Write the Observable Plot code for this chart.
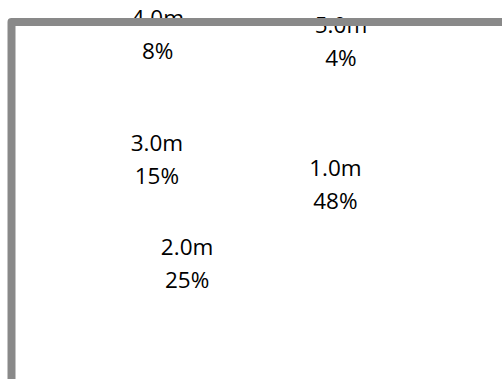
<!DOCTYPE html>
<html>
<head>
<meta charset="utf-8">
<script src="https://cdn.jsdelivr.net/npm/d3@7"></script>
<script src="https://cdn.jsdelivr.net/npm/@observablehq/plot@0.6"></script>
<style>
  html, body { margin: 0; padding: 0; background: #fff; width: 502px; height: 379px; overflow: hidden; }
  #chart { width: 502px; height: 379px; overflow: hidden; }
  #chart svg { display: block; max-width: none !important; width: 620px !important; height: 480px !important; }
</style>
</head>
<body>
<div id="chart"></div>
<script>
// ---- data ----
const categories = ["1.0m", "2.0m", "3.0m", "4.0m", "5.0m"];
const shares = [48, 25, 15, 8, 4];
const percentLabels = ["48%", "25%", "15%", "8%", "4%"];

// ---- pie layout (slices start at 12 o'clock, clockwise) ----
const arcs = d3.pie().sort(null).value(d => d)(shares);
const insideRadius = 0.667;   // labels of big slices, in pie radii
const outsideRadius = 1.29;   // labels of small slices pushed out ("best fit")
const smallShare = 10;
const minOutsideGap = 62 * Math.PI / 180; // spread outside labels apart

let lastOutside = null;
const labels = arcs.map((a, i) => {
  let angle = (a.startAngle + a.endAngle) / 2;
  const outside = shares[i] < smallShare;
  if (outside) {
    if (lastOutside !== null && angle - lastOutside < minOutsideGap) angle = lastOutside + minOutsideGap;
    lastOutside = angle;
  }
  const r = outside ? outsideRadius : insideRadius;
  return {
    category: categories[i],
    share: shares[i],
    text: categories[i] + "\n" + percentLabels[i],
    x: r * Math.sin(angle),
    y: r * Math.cos(angle)
  };
});

// ---- chart geometry ----
const W = 620, H = 480;             // larger than the window: frame runs off right/bottom
const mL = 11, mT = 21.5;
const cx = 243, cy = 187.5, k = 138; // pie centre and pixels per pie radius

const chart = Plot.plot({
  width: W,
  height: H,
  marginLeft: mL,
  marginTop: mT,
  marginRight: 0,
  marginBottom: 0,
  style: { fontFamily: "'Open Sans', sans-serif", background: "#fff", color: "#000", maxWidth: "none" },
  x: { domain: [(mL - cx) / k, (W - cx) / k], axis: null },
  y: { domain: [-(H - cy) / k, (cy - mT) / k], axis: null },
  marks: [
    Plot.text(labels, {
      x: "x",
      y: "y",
      text: "text",
      fontSize: 22.5,
      lineHeight: 1.47,
      fill: "#000",
      textAnchor: "middle"
    }),
    Plot.frame({ stroke: "#898989", strokeWidth: 8, strokeLinejoin: "round" })
  ]
});
document.getElementById("chart").appendChild(chart);
</script>
</body>
</html>
